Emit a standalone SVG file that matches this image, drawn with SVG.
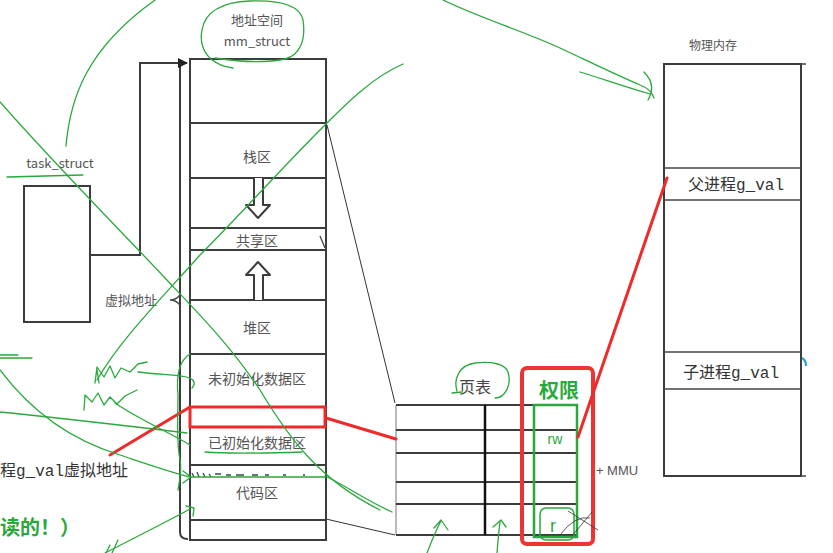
<svg xmlns="http://www.w3.org/2000/svg" width="833" height="553" viewBox="0 0 833 553">
<style>
.box{fill:none;stroke:#3c3c3c;stroke-width:2}
.thin{fill:none;stroke:#444;stroke-width:1.3}
.lbl{font-family:"Noto Sans CJK SC","Noto Sans",sans-serif;font-size:14px;fill:#555;text-anchor:middle}
.mono{font-family:"Liberation Mono",monospace}
.big{font-family:"Noto Sans CJK SC",sans-serif;font-size:16px;fill:#333}
.g{fill:none;stroke:#2aa83c;stroke-width:1.3;stroke-linecap:round;stroke-linejoin:round}
.r{fill:none;stroke:#ee2a2a;stroke-width:3;stroke-linecap:round}
</style>
<defs>
<marker id="ah" markerWidth="10" markerHeight="10" refX="9" refY="5" orient="auto" markerUnits="userSpaceOnUse">
<path d="M0,0 L10,5 L0,10 Z" fill="#222"/>
</marker>
</defs>
<rect width="833" height="553" fill="#fff"/>

<g id="task_struct">
<text x="60" y="168" class="lbl" style="font-size:13px">task_struct</text>
<rect x="24" y="186" width="66" height="136" class="box"/>
</g>

<g id="mm_struct">
<text x="257" y="25" class="lbl" style="font-size:13px">地址空间</text>
<text x="257" y="46" class="lbl" style="font-size:13px">mm_struct</text>
<rect x="190" y="59" width="136" height="481" class="box"/>
<line x1="190" y1="123" x2="326" y2="123" class="box"/>
<line x1="190" y1="178" x2="326" y2="178" class="box"/>
<line x1="190" y1="228" x2="326" y2="228" class="box"/>
<line x1="190" y1="250" x2="326" y2="250" class="box"/>
<line x1="190" y1="300" x2="326" y2="300" class="box"/>
<line x1="190" y1="354" x2="326" y2="354" class="box"/>
<line x1="190" y1="407" x2="326" y2="407" class="box"/>
<line x1="190" y1="465" x2="326" y2="465" class="box"/>
<line x1="190" y1="520" x2="326" y2="520" class="box"/>
<text x="257" y="162" class="lbl">栈区</text>
<path d="M254,178 V205 H246 L258,218 L270,205 H263 V178" fill="#fff" stroke="#3c3c3c" stroke-width="2" stroke-linejoin="round"/>
<text x="257" y="246" class="lbl">共享区</text>
<path d="M254,300 V275 H246 L258,262 L270,275 H263 V300" fill="#fff" stroke="#3c3c3c" stroke-width="2" stroke-linejoin="round"/>
<text x="257" y="333" class="lbl">堆区</text>
<text x="257" y="384" class="lbl">未初始化数据区</text>
<text x="257" y="448" class="lbl">已初始化数据区</text>
<text x="257" y="498" class="lbl">代码区</text>
<path d="M180,64 V532 Q180,539 188,539" class="box"/>
<path d="M180,295 Q176,300 170,300 M180,305 Q176,300 170,300" class="thin"/>
<text x="131" y="305" class="lbl" style="font-size:13px">虚拟地址</text>
<path d="M320,236 L325,248" class="thin"/>
<path d="M192,473 l2,4 M197,472 l2,5 M203,473 l2,4 M209,474 l2,3 M215,474 h6 M226,475 h5 M236,475 h8 M252,475 h6 M265,475 h4 M283,475 h3 M303,475 h2" class="thin"/>
</g>

<g id="page_table">
<text x="475" y="393" class="lbl" style="font-size:16px;fill:#444">页表</text>
<line x1="396" y1="405" x2="396" y2="535" stroke="#777" stroke-width="1"/>
<line x1="396" y1="405" x2="576" y2="405" class="box"/>
<line x1="396" y1="430" x2="576" y2="430" class="box"/>
<line x1="396" y1="453" x2="576" y2="453" class="box"/>
<line x1="396" y1="482" x2="576" y2="482" class="box"/>
<line x1="396" y1="504" x2="576" y2="504" class="box"/>
<line x1="396" y1="535" x2="576" y2="535" class="box"/>
<line x1="485" y1="405" x2="485" y2="535" stroke="#111" stroke-width="2.5"/>
<rect x="534" y="405" width="43" height="132" fill="none" stroke="#2aa83c" stroke-width="2.5"/>
<rect x="522" y="368" width="71" height="176" rx="5" fill="none" stroke="#ee3333" stroke-width="4"/>
<text x="559" y="398" font-family="Noto Sans CJK SC,sans-serif" font-size="20" font-weight="bold" fill="#2aa83c" text-anchor="middle">权限</text>
<text x="617" y="475" font-family="Liberation Sans,sans-serif" font-size="13" fill="#555" text-anchor="middle">+ MMU</text>
</g>

<g id="phys_mem">
<text x="713" y="50" class="lbl" style="font-size:12px">物理内存</text>
<rect x="664" y="64" width="137" height="412" class="box"/>
<path d="M801,64 h5 M801,476 h5" class="thin"/>
<line x1="664" y1="168" x2="801" y2="168" class="thin"/>
<line x1="664" y1="200" x2="801" y2="200" class="thin"/>
<line x1="664" y1="352" x2="801" y2="352" class="thin"/>
<line x1="664" y1="389" x2="801" y2="389" class="thin"/>
<text x="688" y="190" class="big">父进程<tspan class="mono">g_val</tspan></text>
<text x="683" y="378" class="big">子进程<tspan class="mono">g_val</tspan></text>
<path d="M802,358 q4,2 4,8" fill="none" stroke="#1a9be0" stroke-width="2"/>
</g>

<g id="connectors">
<path d="M90,255 H140 V63 H187" fill="none" stroke="#3c3c3c" stroke-width="2" marker-end="url(#ah)"/>
<line x1="327" y1="125" x2="395" y2="403" stroke="#333" stroke-width="1"/>
<line x1="326" y1="519" x2="395" y2="535" stroke="#333" stroke-width="1"/>
<rect x="190" y="407" width="135" height="20" fill="none" stroke="#ee2a2a" stroke-width="3"/>
<line x1="110" y1="455" x2="190" y2="407" class="r"/>
<line x1="326" y1="418" x2="396" y2="439" class="r"/>
<line x1="578" y1="437" x2="667" y2="178" class="r"/>
</g>

<g id="notes">
<text x="0" y="476" class="big">程<tspan class="mono">g_val</tspan>虚拟地址</text>
<text x="0" y="535" font-family="Noto Sans CJK SC,sans-serif" font-size="20" font-weight="bold" fill="#2aa83c">读的！）</text>
<text x="555" y="444" font-family="Liberation Sans,sans-serif" font-size="14" fill="#2aa83c" text-anchor="middle">rw</text>
<rect x="540" y="508" width="34" height="32" rx="6" fill="none" stroke="#2aa83c" stroke-width="1.5"/>
<text x="553" y="532" font-family="Liberation Sans,sans-serif" font-size="18" fill="#2aa83c" text-anchor="middle">r</text>
<path d="M568,511 L598,530 M592,512 L572,536 M560,535 Q575,515 590,518" fill="none" stroke="#333" stroke-width="0.8"/>
</g>

<g id="scribbles">
<path class="g" d="M233,68 C205,64 199,45 202,30 C205,12 222,2 250,1 C280,0 300,5 303,20 C306,40 300,55 285,59 C265,63 240,62 215,58"/>
<path class="g" d="M66,146 C70,100 85,50 155,0"/>
<path class="g" d="M7,177 L83,175"/>
<path class="g" d="M0,102 C60,170 120,230 165,278 C200,315 230,345 260,390 C290,440 320,480 380,510"/>
<path class="g" d="M403,64 C370,78 340,110 320,130 C280,170 240,215 200,255 C160,300 120,340 97,380"/>
<path class="g" d="M443,0 C480,18 520,30 560,48 C590,62 610,72 640,85 C648,88 652,92 654,98 M644,72 C652,80 654,90 648,100"/>
<path class="g" d="M0,355 H18 M0,358 H32"/>
<path class="g" d="M95,383 L97,367 L104,377 L110,366 L115,378 L121,368 L130,372 L138,364 L147,362 M97,370 L99,383"/>
<path class="g" d="M84,410 L85,395 L92,402 L98,393 L104,405 L110,397 L117,404 L125,396 L137,390"/>
<path class="g" d="M138,372 C160,375 180,374 190,378 C194,380 196,384 192,388"/>
<path class="g" d="M115,403 C140,420 165,430 190,445"/>
<path class="g" d="M0,412 C60,418 120,425 187,433"/>
<path class="g" d="M0,370 C30,410 70,440 120,455 C150,465 170,472 190,477 M183,471 L191,477 L183,483"/>
<path class="g" d="M191,477 H325"/>
<path class="g" d="M190,354 C180,360 176,375 178,395 C178,420 176,440 180,460 C182,470 180,478 178,490"/>
<path class="g" d="M205,452 C230,454 270,453 302,452"/>
<path class="g" d="M190,509 C170,520 140,535 105,553 M186,506 L194,508 L193,516"/>
<path class="g" d="M110,545 L106,553 M118,540 L112,553"/>
<path class="g" d="M325,476 C345,485 365,500 392,512"/>
<path class="g" d="M457,391 C453,378 460,365 475,363 C492,361 505,364 508,372 C512,385 505,398 495,398 M452,393 L462,392"/>
<path class="g" d="M427,553 C432,540 436,530 441,521 M434,528 L441,520 L448,530"/>
<path class="g" d="M497,553 C498,540 499,530 500,522 M493,527 L501,520 L506,527"/>
<path class="g" d="M650,94 C620,85 600,78 580,72"/>
</g>
</svg>
